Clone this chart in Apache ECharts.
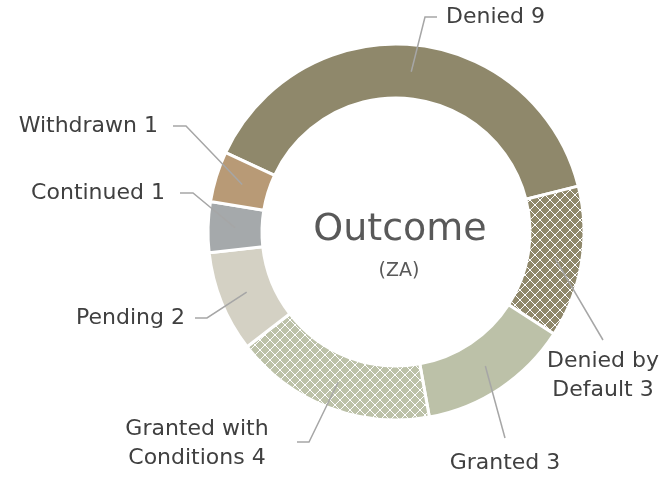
<!DOCTYPE html>
<html>
<head>
<meta charset="utf-8">
<script src="https://cdn.jsdelivr.net/npm/echarts@6/dist/echarts.min.js"></script>
<style>
  html, body { margin: 0; padding: 0; background: #fff; }
  #chart { width: 667px; height: 478px; }
</style>
</head>
<body>
<div id="chart"></div>
<script>
// outcome counts, clockwise from the top-left
var outcomes = ['Denied', 'Denied by\nDefault', 'Granted', 'Granted with\nConditions', 'Pending', 'Continued', 'Withdrawn']
var counts = [9, 3, 3, 4, 2, 1, 1]

var fills = ['#8f886b', '#8f886b', '#bcc1a8', '#bcc1a8', '#d4d1c4', '#a5a9ab', '#b89a76']
var hatched = [false, true, false, true, false, false, false]

// where each label sits and how its guide line bends
var spots = [
    { x: 446, y: 17, align: 'left', elbow: [425, 17], end: [437, 17] },
    { x: 603, y: 376, align: 'center', elbow: [603, 340], end: [603, 340] },
    { x: 505, y: 463, align: 'center', elbow: [505, 438], end: [505, 438] },
    { x: 197, y: 444, align: 'center', elbow: [309, 442], end: [297, 442] },
    { x: 185, y: 318, align: 'right', elbow: [207, 318], end: [195, 318] },
    { x: 165, y: 193, align: 'right', elbow: [193, 193], end: [180, 193] },
    { x: 158, y: 126, align: 'right', elbow: [186, 126], end: [173, 126] }
]

// white diagonal lattice like the excel pattern fill
function lattice(base) {
    var n = 10
    var c = document.createElement('canvas')
    c.width = n
    c.height = n
    var ctx = c.getContext('2d')
    ctx.fillStyle = base
    ctx.fillRect(0, 0, n, n)
    ctx.fillStyle = '#ffffff'
    for (var i = 0; i < n; i++) {
        ctx.fillRect(i, i, 1, 1)
        ctx.fillRect(n - 1 - i, i, 1, 1)
    }
    return { image: c, repeat: 'repeat' }
}

var center = [396, 232]
var ringData = counts.map(function (v, i) {
    return {
        name: outcomes[i],
        value: v,
        itemStyle: { color: hatched[i] ? lattice(fills[i]) : fills[i] }
    }
})
var labelData = counts.map(function (v, i) {
    return { name: outcomes[i], value: v }
})

var myChart = echarts.init(document.getElementById('chart'))
myChart.setOption({
    animation: false,
    graphic: [
        {
            type: 'text', x: 400, y: 230, z: 10,
            style: { text: 'Outcome', fontFamily: 'DejaVu Sans', fontSize: 38, fill: '#595959', align: 'center', verticalAlign: 'middle' }
        },
        {
            type: 'text', x: 399, y: 271, z: 10,
            style: { text: '(ZA)', fontFamily: 'DejaVu Sans', fontSize: 19, fill: '#595959', align: 'center', verticalAlign: 'middle' }
        }
    ],
    series: [
        {
            type: 'pie',
            center: center,
            radius: [134, 188],
            startAngle: 155,
            silent: true,
            label: { show: false },
            labelLine: { show: false },
            itemStyle: { borderColor: '#ffffff', borderWidth: 3 },
            data: ringData
        },
        {
            // invisible copy whose guide lines start at mid ring
            type: 'pie',
            center: center,
            radius: [0, 161],
            startAngle: 155,
            silent: true,
            z: 5,
            avoidLabelOverlap: false,
            itemStyle: { color: 'rgba(0,0,0,0)' },
            label: {
                show: true,
                position: 'outside',
                formatter: '{b} {c}',
                fontFamily: 'DejaVu Sans',
                fontSize: 22,
                lineHeight: 29,
                color: '#404040'
            },
            labelLine: {
                show: true,
                lineStyle: { color: '#a6a6a6', width: 1.5 }
            },
            labelLayout: function (params) {
                var s = spots[params.dataIndex]
                var p0 = params.labelLinePoints[0]
                return {
                    x: s.x,
                    y: s.y,
                    align: s.align,
                    verticalAlign: 'middle',
                    labelLinePoints: [p0, s.elbow, s.end]
                }
            },
            data: labelData
        }
    ]
})
window.addEventListener('resize', function () {
    myChart.resize()
})
</script>
</body>
</html>
